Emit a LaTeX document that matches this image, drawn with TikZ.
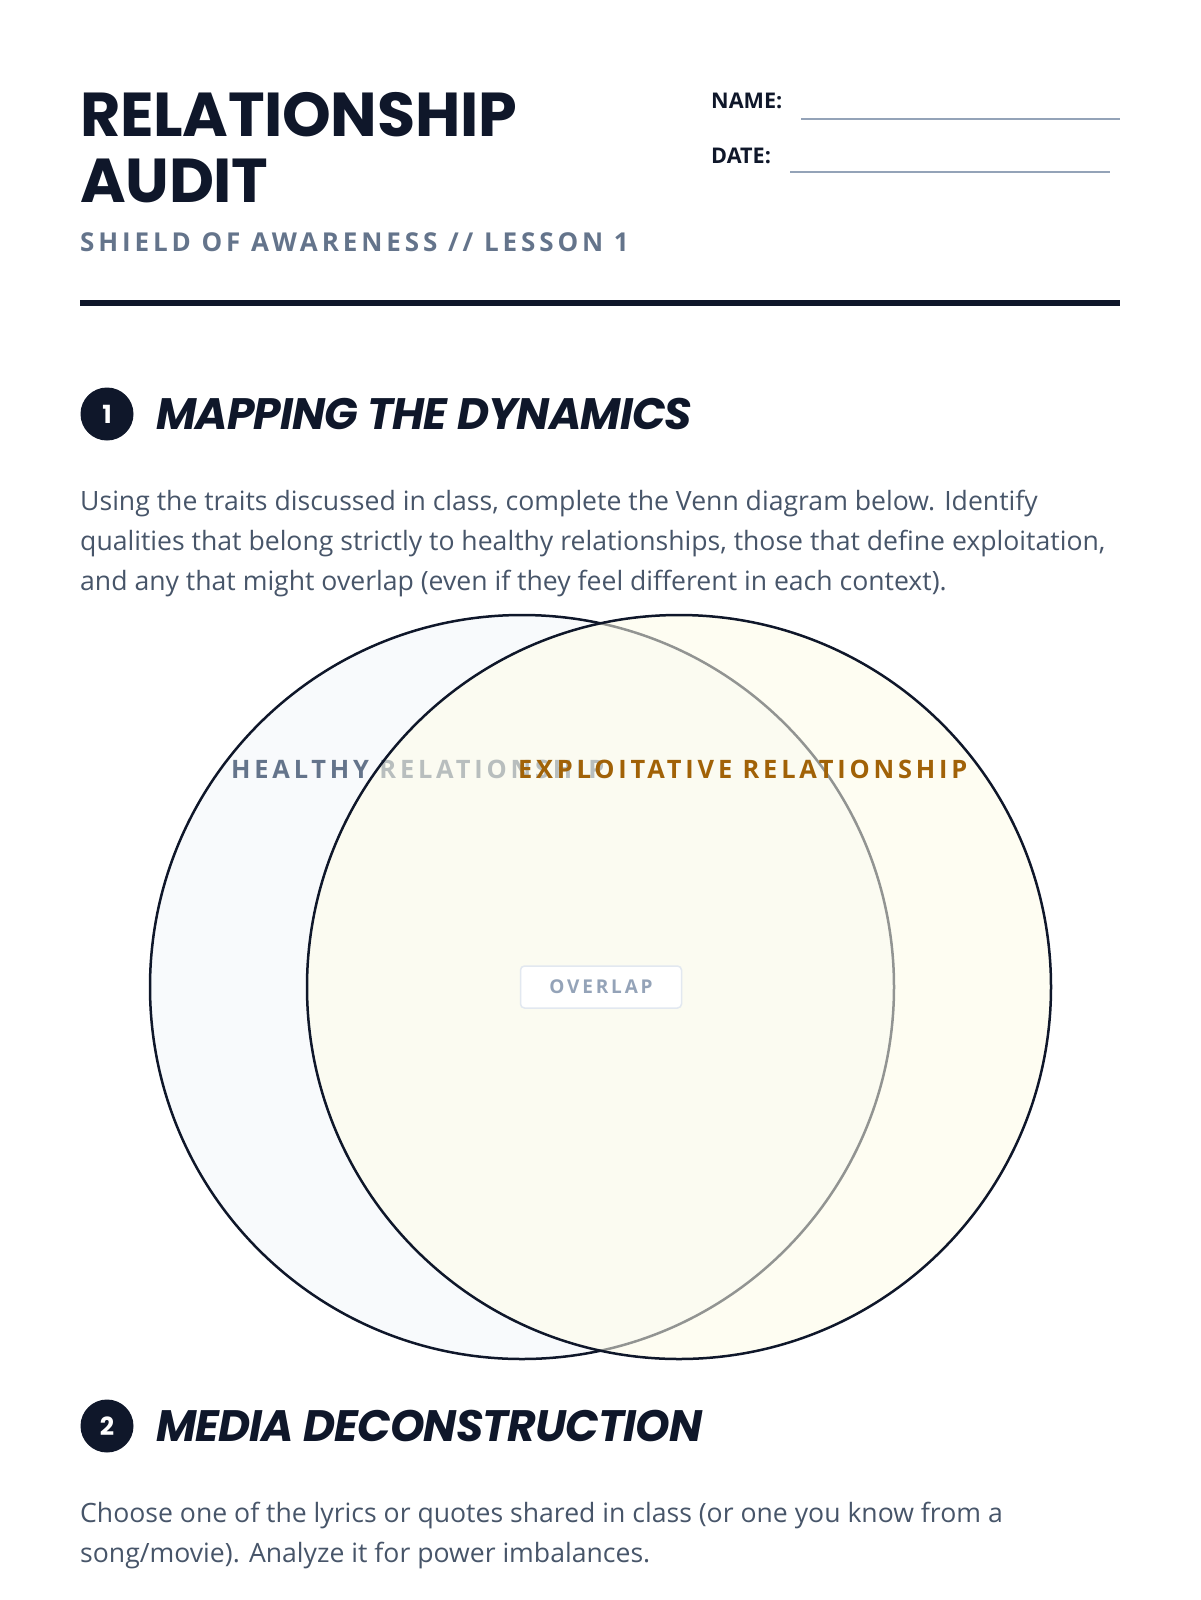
\documentclass[tikz,border=0pt]{standalone}
\usepackage{fontspec}
\setmainfont{Open Sans}
\newfontfamily\titlefont[LetterSpace=-0.5]{Poppins}
\newfontfamily\headfont[LetterSpace=-2]{Poppins}
\newfontfamily\capsfont[LetterSpace=15]{Open Sans}
\usepackage{tikz}
\usetikzlibrary{positioning}

\definecolor{ink}{HTML}{0F172A}
\definecolor{slate}{HTML}{64748B}
\definecolor{bodygray}{HTML}{475569}
\definecolor{blankline}{HTML}{94A3B8}
\definecolor{healthyfill}{HTML}{F8FAFC}
\definecolor{exploitfill}{HTML}{FEFCE8}
\definecolor{exploitink}{HTML}{A16207}
\definecolor{tagborder}{HTML}{E2E8F0}

\begin{document}
\begin{tikzpicture}[x=1pt,y=-1pt,
    every node/.style={inner sep=0pt},
    titleline/.style={anchor=base west, text=ink, font=\titlefont\bfseries\fontsize{62}{62}\selectfont},
    fieldlabel/.style={anchor=base west, text=ink, font=\bfseries\fontsize{21.6}{22}\selectfont},
    numdisc/.style={circle, fill=ink, minimum size=53pt, text=white, font=\titlefont\bfseries\fontsize{25}{25}\selectfont},
    sectionhead/.style={anchor=base west, text=ink, font=\headfont\bfseries\itshape\fontsize{44}{44}\selectfont},
    bodyline/.style={anchor=base west, text=bodygray, font=\fontsize{26.6}{40}\selectfont},
    vennlabel/.style={anchor=base west, font=\capsfont\bfseries\fontsize{25.4}{26}\selectfont},
    overlaptag/.style={draw=tagborder, line width=1.5pt, fill=white, rounded corners=4pt,
        minimum width=161pt, minimum height=42pt, text=blankline, font=\capsfont\bfseries\fontsize{19}{19}\selectfont}
]
\useasboundingbox (0,0) rectangle (1200,1600);

% header
\node[titleline] (title1) at (80,136) {RELATIONSHIP};
\node[titleline] (title2) at (80,202) {AUDIT};
\node[anchor=base west, text=slate, font=\capsfont\bfseries\fontsize{26}{26}\selectfont] (subtitle) at (80,251) {SHIELD OF AWARENESS // LESSON 1};

\node[fieldlabel] (namelbl) at (711,109) {NAME:};
\node[fieldlabel] (datelbl) at (711,163) {DATE:};
\coordinate (name0) at (801,119);
\coordinate (name1) at (1120,119);
\coordinate (date0) at (790,172);
\coordinate (date1) at (1110,172);
\draw[blankline, line width=2pt] (name0) -- (name1);
\draw[blankline, line width=2pt] (date0) -- (date1);

\coordinate (rule0) at (80,303);
\coordinate (rule1) at (1120,303);
\draw[ink, line width=6pt] (rule0) -- (rule1);

% section 1
\node[numdisc] (num1) at (107,414) {1};
\node[sectionhead] (head1) at (156,429) {MAPPING THE DYNAMICS};
\node[bodyline] (body1a) at (80,510) {Using the traits discussed in class, complete the Venn diagram below. Identify};
\node[bodyline] (body1b) at (80,550) {qualities that belong strictly to healthy relationships, those that define exploitation,};
\node[bodyline] (body1c) at (80,590) {and any that might overlap (even if they feel different in each context).};

% venn
\filldraw[fill=healthyfill, draw=ink, line width=2.5pt] (522,987) circle[radius=372];
\node[vennlabel, text=slate] (healthy) at (231,778) {HEALTHY RELATIONSHIP};
\filldraw[fill=exploitfill, fill opacity=0.55, draw=ink, line width=2.5pt] (679,987) circle[radius=372];
\node[vennlabel, text=exploitink] (exploit) at (518,778) {EXPLOITATIVE RELATIONSHIP};
\node[overlaptag] (overlap) at (601,987) {OVERLAP};

% section 2
\node[numdisc] (num2) at (107,1426) {2};
\node[sectionhead] (head2) at (156,1441) {MEDIA DECONSTRUCTION};
\node[bodyline] (body2a) at (80,1522) {Choose one of the lyrics or quotes shared in class (or one you know from a};
\node[bodyline] (body2b) at (80,1562) {song/movie). Analyze it for power imbalances.};
\end{tikzpicture}
\end{document}
